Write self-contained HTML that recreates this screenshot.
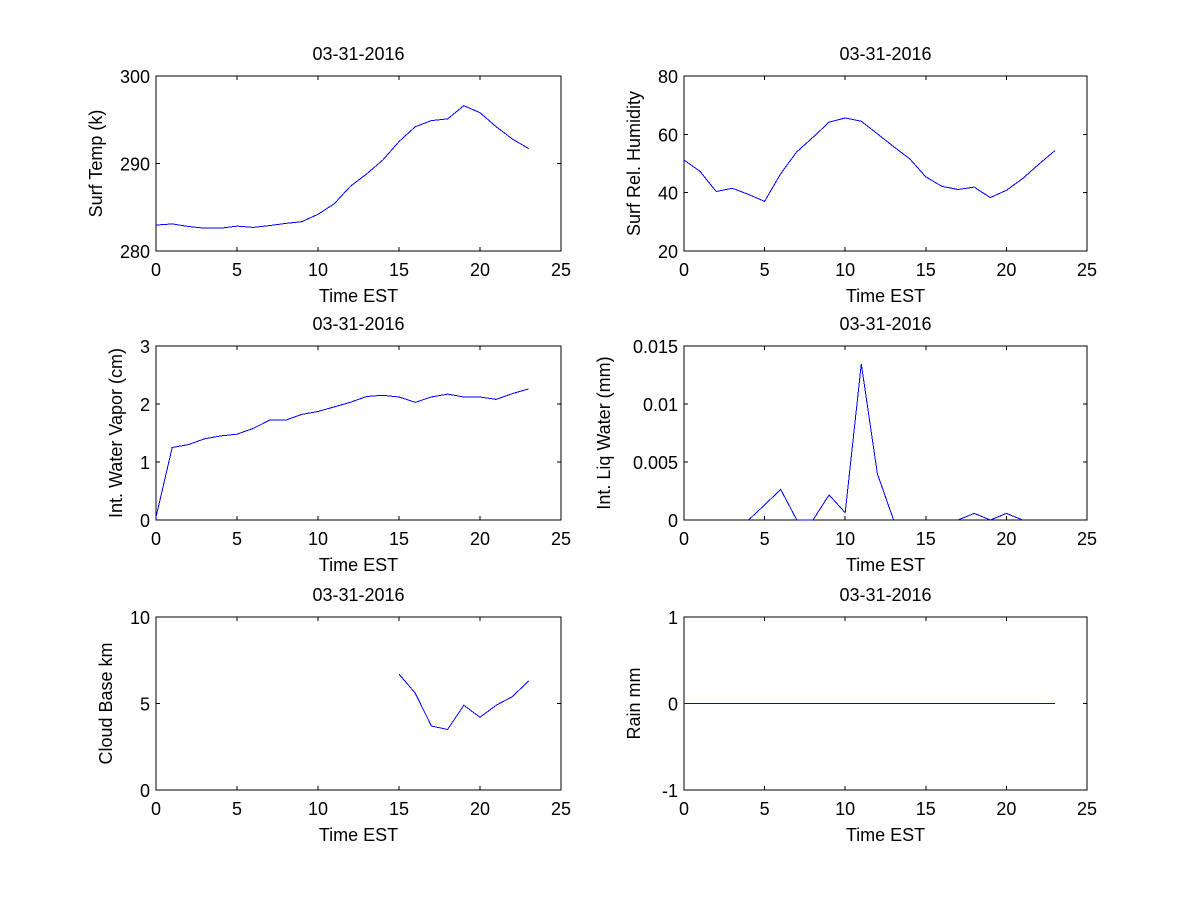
<!DOCTYPE html>
<html><head><meta charset="utf-8"><style>
body{margin:0;background:#fff;}
svg text{font-family:"Liberation Sans",sans-serif;font-size:18px;fill:#000;}
svg path, svg line, svg rect{shape-rendering:crispEdges;}
</style></head><body>
<svg id="fig" width="1200" height="900" xmlns="http://www.w3.org/2000/svg">
<rect width="1200" height="900" fill="#fff"/>
</svg>
<script>
const hours = [0,1,2,3,4,5,6,7,8,9,10,11,12,13,14,15,16,17,18,19,20,21,22,23];
const surfTemp = [282.96,283.1,282.8,282.6,282.6,282.85,282.7,282.9,283.15,283.35,284.2,285.4,287.4,288.8,290.4,292.5,294.2,294.9,295.1,296.6,295.8,294.2,292.8,291.7];
const surfRH = [51.2,47.3,40.4,41.5,39.4,37,46.5,54,59,64.2,65.6,64.5,60.2,55.8,51.6,45.4,42.2,41.1,41.9,38.3,40.8,44.8,49.7,54.4];
const waterVapor = [0.05,1.25,1.3,1.4,1.45,1.48,1.58,1.72,1.72,1.82,1.87,1.95,2.03,2.13,2.15,2.12,2.03,2.12,2.17,2.12,2.12,2.08,2.18,2.26];
const liqWater = [null,null,null,null,0,0.0013,0.00264,0,0,0.00216,0.00063,0.01345,0.00397,0,null,null,null,0,0.00057,0,0.00057,0,null,null];
const cloudBase = [null,null,null,null,null,null,null,null,null,null,null,null,null,null,null,6.7,5.6,3.7,3.5,4.9,4.2,4.9,5.4,6.3];
const rain = [0,0,0,0,0,0,0,0,0,0,0,0,0,0,0,0,0,0,0,0,0,0,0,0];
const xTicks = [0,5,10,15,20,25];
const panels = [
 {name:'surf-temp',x0:156,x1:561,y0:76,y1:251,ymin:280,ymax:300,yt:['280','290','300'],yl:'Surf Temp (k)',data:surfTemp},
 {name:'surf-humidity',x0:684,x1:1087,y0:76,y1:251,ymin:20,ymax:80,yt:['20','40','60','80'],yl:'Surf Rel. Humidity',data:surfRH},
 {name:'water-vapor',x0:156,x1:561,y0:346,y1:520,ymin:0,ymax:3,yt:['0','1','2','3'],yl:'Int. Water Vapor (cm)',data:waterVapor},
 {name:'liq-water',x0:684,x1:1087,y0:346,y1:520,ymin:0,ymax:0.015,yt:['0','0.005','0.01','0.015'],yl:'Int. Liq Water (mm)',data:liqWater},
 {name:'cloud-base',x0:156,x1:561,y0:617,y1:790,ymin:0,ymax:10,yt:['0','5','10'],yl:'Cloud Base km',data:cloudBase},
 {name:'rain',x0:684,x1:1087,y0:617,y1:790,ymin:-1,ymax:1,yt:['-1','0','1'],yl:'Rain mm',data:rain}
];
const NS='http://www.w3.org/2000/svg';
const svg=document.getElementById('fig');
function mk(tag,attrs,parent){const e=document.createElementNS(NS,tag);for(const k in attrs)e.setAttribute(k,attrs[k]);(parent||svg).appendChild(e);return e;}
panels.forEach(p=>{
  const g=mk('g',{});
  
  
  const sx=v=>p.x0+(v-0)/25*(p.x1-p.x0);
  const sy=v=>p.y1-(v-p.ymin)/(p.ymax-p.ymin)*(p.y1-p.y0);
  const box=mk('rect',{x:p.x0,y:p.y0,width:p.x1-p.x0,height:p.y1-p.y0,fill:'none',stroke:'#000','stroke-width':1},g);
  
  
  xTicks.forEach(t=>{
    const x=sx(t);
    mk('line',{x1:x,x2:x,y1:p.y1,y2:p.y1-4,stroke:'#000'},g);
    mk('line',{x1:x,x2:x,y1:p.y0,y2:p.y0+4,stroke:'#000'},g);
    const tx=mk('text',{x:x,y:p.y1+25,'text-anchor':'middle'},g);tx.textContent=t;
    
    
  });
  p.yt.forEach(lab=>{
    const y=sy(parseFloat(lab));
    mk('line',{x1:p.x0,x2:p.x0+4,y1:y,y2:y,stroke:'#000'},g);
    mk('line',{x1:p.x1,x2:p.x1-4,y1:y,y2:y,stroke:'#000'},g);
    const ty=mk('text',{x:p.x0-6,y:y+7,'text-anchor':'end'},g);ty.textContent=lab;
    
    
  });
  let d='',pen=false;
  p.data.forEach((v,i)=>{ if(v===null){pen=false;return;} d+=(pen?'L':'M')+sx(hours[i]).toFixed(1)+' '+sy(v).toFixed(1)+' '; pen=true;});
  const line=mk('path',{d:d,fill:'none',stroke:'#0000ff','stroke-width':1},g);
  
  
  const cx=(p.x0+p.x1)/2;
  const ti=mk('text',{x:cx,y:p.y0-16,'text-anchor':'middle'},g);ti.textContent='03-31-2016';
  
  
  const xl=mk('text',{x:cx,y:p.y1+51,'text-anchor':'middle'},g);xl.textContent='Time EST';
  
  
  const maxw=Math.max(...p.yt.map(s=>s.length));
  const lx=p.x0-20-maxw*10-4;
  const cy=(p.y0+p.y1)/2;
  const yl=mk('text',{x:lx,y:cy,'text-anchor':'middle',transform:`rotate(-90 ${lx} ${cy})`},g);yl.textContent=p.yl;
  
  
});
</script>
</body></html>
